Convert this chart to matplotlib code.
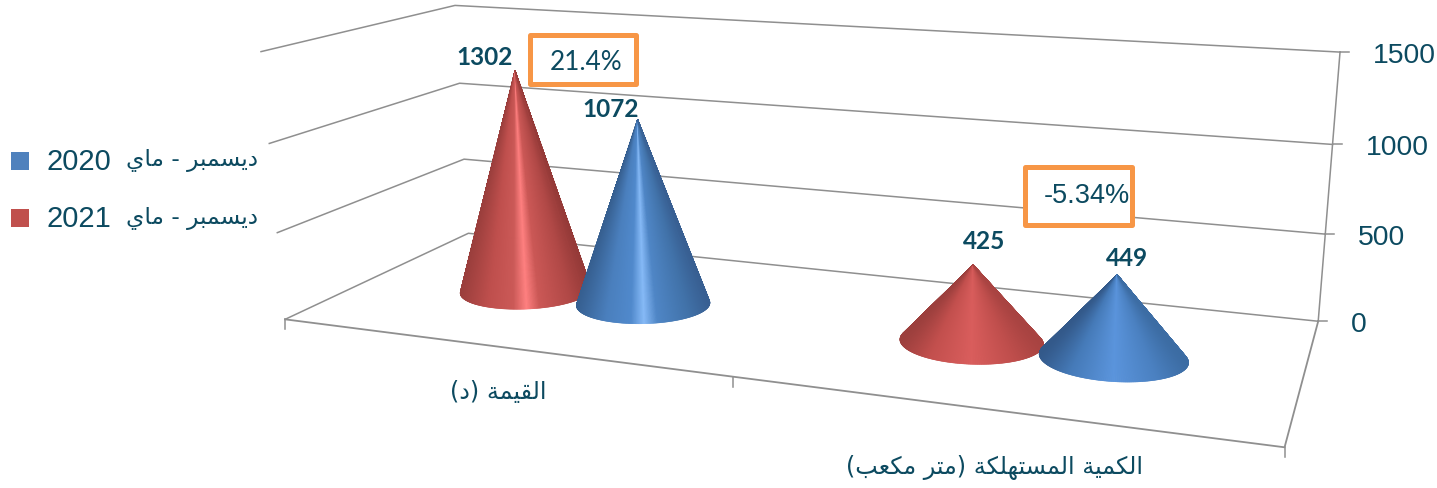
import re
import numpy as np
import matplotlib
matplotlib.use('Agg')
import matplotlib.pyplot as plt
from matplotlib.collections import PolyCollection
from matplotlib.patches import Rectangle

# --- data ---
categories = ['القيمة (د)', 'الكمية المستهلكة (متر مكعب)']
period = 'ديسمبر - ماي'
years = ['2020', '2021']
values_2020 = [1072, 449]
values_2021 = [1302, 425]
changes = ['21.4%', '-5.34%']
z_ticks = [0, 500, 1000, 1500]

# --- styles ---
TEXT = '#0c4a60'
GRID = '#8f8f8f'
ORANGE = '#f79646'
LEGEND_COLORS = {'2020': '#4f81bd', '2021': '#c0504d'}
TALL_T = [0, .22, .41, .51, .61, .85, 1]
SHORT_T = [0, .2, .5, .8, 1]
RED_TALL = ['#9a3e3c', '#bf4f4d', '#cb5957', '#ff8080', '#cb5856', '#b04846', '#953a38']
BLUE_TALL = ['#365f90', '#4a7fbd', '#5089cc', '#86baf7', '#4f86c6', '#4172a9', '#385f92']
RED_SHORT = ['#9c3f3d', '#c24f4d', '#d95d5c', '#bf4e4c', '#a84341']
BLUE_SHORT = ['#33598a', '#457ab8', '#5a94dc', '#4a80c0', '#3c6ca3']


# matplotlib does no arabic shaping, so pick the presentation forms by hand
FORMS = {
    'ا': (0xFE8D, 0xFE8E), 'د': (0xFEA9, 0xFEAA), 'ر': (0xFEAD, 0xFEAE),
    'ة': (0xFE93, 0xFE94),
    'ب': (0xFE8F, 0xFE90, 0xFE91, 0xFE92), 'ت': (0xFE95, 0xFE96, 0xFE97, 0xFE98),
    'س': (0xFEB1, 0xFEB2, 0xFEB3, 0xFEB4), 'ع': (0xFEC9, 0xFECA, 0xFECB, 0xFECC),
    'ق': (0xFED5, 0xFED6, 0xFED7, 0xFED8), 'ك': (0xFED9, 0xFEDA, 0xFEDB, 0xFEDC),
    'ل': (0xFEDD, 0xFEDE, 0xFEDF, 0xFEE0), 'م': (0xFEE1, 0xFEE2, 0xFEE3, 0xFEE4),
    'ه': (0xFEE9, 0xFEEA, 0xFEEB, 0xFEEC), 'ي': (0xFEF1, 0xFEF2, 0xFEF3, 0xFEF4),
}


def arabic(s):
    out = []
    for i, c in enumerate(s):
        if c not in FORMS:
            out.append(c)
            continue
        f = FORMS[c]
        prev_joins = i > 0 and s[i - 1] in FORMS and len(FORMS[s[i - 1]]) == 4
        next_joins = len(f) == 4 and i + 1 < len(s) and s[i + 1] in FORMS
        if prev_joins and next_joins:
            out.append(chr(f[3]))
        elif next_joins:
            out.append(chr(f[2]))
        elif prev_joins:
            out.append(chr(f[1]))
        else:
            out.append(chr(f[0]))
    vis = ''.join(out)[::-1].translate(str.maketrans('()', ')('))
    return re.sub(r'\d+', lambda m: m.group(0)[::-1], vis)


# --- camera: fit a projective view of the chart box (category, depth, value) ---
calib = [
    (0, 0, 0, 285, 319), (1, 0, 0, 732, 377), (2, 0, 0, 1285, 447),
    (0, 1, 0, 470, 234), (2, 1, 0, 1318, 321),
    (0, 0, 500, 277, 233), (0, 0, 1000, 269, 143), (0, 0, 1500, 262, 52),
    (0, 1, 500, 463, 159), (0, 1, 1000, 459, 83), (0, 1, 1500, 455, 5),
    (2, 1, 500, 1325, 234), (2, 1, 1000, 1333, 144), (2, 1, 1500, 1340, 53),
]
rows = []
for x, d, z, px, py in calib:
    X = [x, d, z / 1500, 1]
    rows.append(X + [0, 0, 0, 0] + [-px * v for v in X])
    rows.append([0, 0, 0, 0] + X + [-py * v for v in X])
P = np.linalg.svd(np.array(rows, dtype=float))[2][-1].reshape(3, 4)


def project(x, d, z):
    x, d, z = np.broadcast_arrays(np.asarray(x, float), np.asarray(d, float), np.asarray(z, float))
    h = P @ np.stack([x, d, z / 1500, np.ones_like(x)])
    return h[0] / h[2], h[1] / h[2]


def draw_cone(ax, x0, d0, value, ramp, ramp_t, zorder):
    theta = np.linspace(0, 2 * np.pi, 721)
    bx, by = project(x0 + 0.142 * np.cos(theta), d0 + 0.19 * np.sin(theta), 0 * theta)
    ax_, ay_ = project(x0, d0, value)
    polys, cols = [], []
    colors = np.array([matplotlib.colors.to_rgb(c) for c in ramp])
    left, right = bx.min(), bx.max()
    for i in range(len(theta) - 1):
        cross = (bx[i] - ax_) * (by[i + 1] - ay_) - (by[i] - ay_) * (bx[i + 1] - ax_)
        if cross >= 0:
            continue
        t = ((bx[i] + bx[i + 1]) / 2 - left) / (right - left)
        polys.append([(ax_, ay_), (bx[i], by[i]), (bx[i + 1], by[i + 1])])
        cols.append([np.interp(t, ramp_t, colors[:, k]) for k in range(3)])
    ax.add_collection(PolyCollection(polys, facecolors=cols, edgecolors=cols, linewidths=0.4, zorder=zorder))
    return ax_, ay_


fig = plt.figure(figsize=(14.37, 4.88), dpi=100)
ax = fig.add_axes([0, 0, 1, 1])
ax.set_xlim(0, 1437)
ax.set_ylim(488, 0)
ax.axis('off')

# --- walls and floor ---
for z in z_ticks:
    xs, ys = project([0, 0, 2], [0, 1, 1], [z, z, z])
    ax.plot(xs, ys, color=GRID, lw=1.1, zorder=1)
    ax.plot([xs[2], xs[2] + 9], [ys[2], ys[2]], color=GRID, lw=1.1, zorder=1)
    ax.text(xs[2] + 33, ys[2] + 4, str(z), color=TEXT, fontsize=20.4, family='Liberation Sans', ha='left', va='center')
xs, ys = project([2, 2], [1, 1], [0, 1500])
ax.plot(xs, ys, color=GRID, lw=1.1, zorder=1)
xs, ys = project([0, 2, 2], [0, 0, 1], [0, 0, 0])
ax.plot(xs, ys, color=GRID, lw=1.3, zorder=1)
for u in range(3):
    tx, ty = project(u, 0, 0)
    ax.plot([tx, tx], [ty, ty + 10], color=GRID, lw=1.1, zorder=1)

# --- cones ---
centers = [0.5, 1.5]
depth = 0.49
gap_left = 0.135
gap_right = 0.147
label_off_2021 = [(-30, -13), (11, -23)]
label_off_2020 = [(-27, -10), (10, -16)]
for i, c in enumerate(centers):
    tall = values_2021[i] > 800
    tip = draw_cone(ax, c - gap_left, depth, values_2021[i], RED_TALL if tall else RED_SHORT, TALL_T if tall else SHORT_T, 3)
    ax.text(tip[0] + label_off_2021[i][0], tip[1] + label_off_2021[i][1], str(values_2021[i]), color=TEXT,
            fontsize=17.6, fontweight='bold', family='Lato', ha='center', va='center', zorder=6)
    tip = draw_cone(ax, c + gap_right, depth, values_2020[i], BLUE_TALL if tall else BLUE_SHORT, TALL_T if tall else SHORT_T, 4)
    ax.text(tip[0] + label_off_2020[i][0], tip[1] + label_off_2020[i][1], str(values_2020[i]), color=TEXT,
            fontsize=17.6, fontweight='bold', family='Lato', ha='center', va='center', zorder=6)

# --- change boxes ---
boxes = [(529.5, 34.5, 106, 49), (1024.5, 166.5, 107, 58)]
box_text = [(586, 63, 18.8, 'Lato'), (1087, 196, 19.5, 'Liberation Sans')]
for (bx, by, bw, bh), (tx, ty, fs, fam), s in zip(boxes, box_text, changes):
    ax.add_patch(Rectangle((bx, by), bw, bh, fc='white', ec=ORANGE, lw=3.6, joinstyle='round', zorder=5))
    ax.text(tx, ty, s, color=TEXT, fontsize=fs, family=fam, ha='center', va='center', zorder=6)

# --- category labels ---
cat_pos = [(498, 392), (994, 468)]
for (tx, ty), s in zip(cat_pos, categories):
    ax.text(tx, ty, arabic(s), color=TEXT, fontsize=17.2, family='DejaVu Sans', ha='center', va='center')

# --- legend ---
for y, yr in zip([161, 218], years):
    ax.add_patch(Rectangle((11, y - 9), 18, 18, fc=LEGEND_COLORS[yr], ec='none'))
    ax.text(46, y + 1, yr, color=TEXT, fontsize=21, family='Liberation Sans', ha='left', va='center')
    ax.text(258, y, arabic(period), color=TEXT, fontsize=16.8, family='DejaVu Sans', ha='right', va='center')

fig.savefig('out.png', dpi=100)
